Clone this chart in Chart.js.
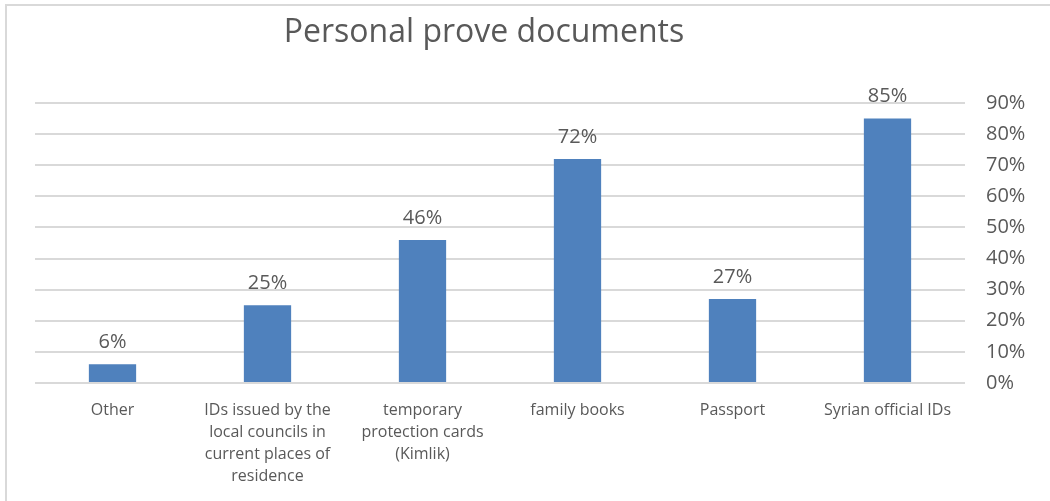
<!DOCTYPE html>
<html>
<head>
<meta charset="utf-8">
<script src="https://cdn.jsdelivr.net/npm/chart.js@4"></script>
<style>
  html, body { margin: 0; padding: 0; background: #fff; }
  #wrap { width: 1050px; height: 501px; }
</style>
</head>
<body>
<div id="wrap"><canvas id="docsChart" width="1050" height="501"></canvas></div>
<script>
// Documents held, share of respondents (%)
const categories = [
  "Other",
  ["IDs issued by the", "local councils in", "current places of", "residence"],
  ["temporary", "protection cards", "(Kimlik)"],
  "family books",
  "Passport",
  "Syrian official IDs"
];
const shares = [6, 25, 46, 72, 27, 85];
const yTicks = [0, 10, 20, 30, 40, 50, 60, 70, 80, 90];

const titleText = "Personal prove documents";
const textColor = "#595959";
const gridColor = "#d9d9d9";
const fontFamily = "'Open Sans', 'Liberation Sans', sans-serif";

// frame lines + title
const framePlugin = {
  id: 'frame',
  beforeDraw(chart) {
    const ctx = chart.ctx;
    ctx.save();
    ctx.fillStyle = '#fff';
    ctx.fillRect(0, 0, chart.width, chart.height);
    ctx.strokeStyle = gridColor;
    ctx.lineWidth = 2;
    ctx.beginPath();
    ctx.moveTo(6, chart.height);
    ctx.lineTo(6, 5);
    ctx.lineTo(chart.width, 5);
    ctx.stroke();
    ctx.fillStyle = textColor;
    ctx.font = `32px ${fontFamily}`;
    ctx.textAlign = 'center';
    ctx.textBaseline = 'middle';
    ctx.fillText(titleText, 484, 33);
    ctx.restore();
  }
};

// value labels above each bar
const valueLabels = {
  id: 'valueLabels',
  afterDatasetsDraw(chart) {
    const ctx = chart.ctx;
    const meta = chart.getDatasetMeta(0);
    const data = chart.data.datasets[0].data;
    ctx.save();
    ctx.fillStyle = textColor;
    ctx.font = `20px ${fontFamily}`;
    ctx.textAlign = 'center';
    ctx.textBaseline = 'bottom';
    meta.data.forEach((bar, i) => {
      ctx.fillText(data[i] + '%', bar.x, bar.y - 12);
    });
    ctx.restore();
  }
};

new Chart(document.getElementById("docsChart"), {
  type: 'bar',
  data: {
    labels: categories,
    datasets: [{
      data: shares,
      backgroundColor: "#4f81bd",
      borderWidth: 0,
      categoryPercentage: 1,
      barPercentage: 0.305
    }]
  },
  options: {
    responsive: false,
    animation: false,
    devicePixelRatio: 1,
    layout: { padding: { left: 35, top: 103, right: 0, bottom: 0 } },
    plugins: {
      legend: { display: false },
      title: { display: false },
      tooltip: { enabled: false }
    },
    scales: {
      x: {
        grid: { display: false },
        border: { display: false },
        ticks: {
          color: textColor,
          font: { family: fontFamily, size: 16, lineHeight: '22px' },
          maxRotation: 0,
          autoSkip: false,
          padding: 8
        },
        afterFit: s => { s.height = 501 - 383; }
      },
      y: {
        position: 'right',
        min: 0,
        max: 90,
        afterBuildTicks: s => { s.ticks = yTicks.map(v => ({ value: v })); },
        grid: { color: gridColor, lineWidth: 2, drawTicks: false },
        border: { display: false },
        ticks: {
          color: textColor,
          font: { family: fontFamily, size: 20 },
          padding: 21,
          callback: v => v + '%'
        },
        afterFit: s => { s.width = 1050 - 965; }
      }
    }
  },
  plugins: [framePlugin, valueLabels]
});
</script>
</body>
</html>
